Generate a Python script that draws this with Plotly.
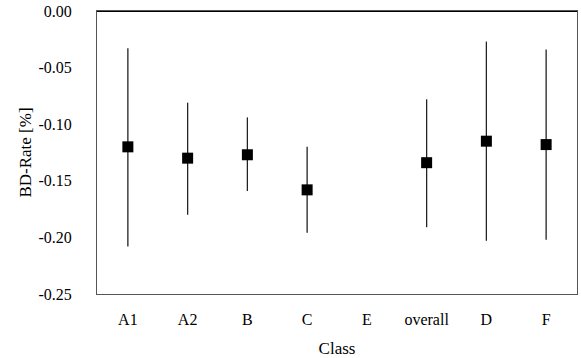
import plotly.graph_objects as go

categories = ["A1", "A2", "B", "C", "E", "overall", "D", "F"]
means = [-0.120, -0.130, -0.127, -0.158, None, -0.134, -0.115, -0.118]
upper = [-0.033, -0.081, -0.094, -0.120, None, -0.078, -0.027, -0.034]
lower = [-0.208, -0.180, -0.159, -0.196, None, -0.191, -0.203, -0.202]
y_tick_values = [0.0, -0.05, -0.10, -0.15, -0.20, -0.25]
y_tick_labels = ["0.00", "-0.05", "-0.10", "-0.15", "-0.20", "-0.25"]

err_plus = [None if m is None else u - m for m, u in zip(means, upper)]
err_minus = [None if m is None else m - l for m, l in zip(means, lower)]

font = "Liberation Serif, Times New Roman, serif"

fig = go.Figure()
fig.add_trace(go.Scatter(
    x=categories, y=means, mode="markers",
    marker=dict(symbol="square", size=11, color="black"),
    error_y=dict(type="data", symmetric=False, array=err_plus, arrayminus=err_minus,
                 color="#222222", thickness=1.3, width=0),
    showlegend=False,
))

fig.update_layout(
    width=581, height=358,
    margin=dict(l=97, r=4, t=11, b=64),
    paper_bgcolor="white", plot_bgcolor="white",
    font=dict(family=font, size=16, color="black"),
    xaxis=dict(
        type="category", categoryorder="array", categoryarray=categories,
        showline=True, linecolor="#555555", linewidth=1, mirror=True,
        showgrid=False, ticks="", tickfont=dict(size=16, color="black"),
        ticklabelstandoff=11, automargin=False,
        title=dict(text="Class", font=dict(size=17, color="black"), standoff=22),
    ),
    yaxis=dict(
        range=[-0.25, 0.0], tickmode="array", tickvals=y_tick_values, ticktext=y_tick_labels,
        showline=True, linecolor="#555555", linewidth=1, mirror=True,
        showgrid=False, zeroline=False, ticks="", tickfont=dict(size=16, color="black"),
        ticklabelstandoff=21, automargin=False,
        title=dict(text="BD-Rate [%]", font=dict(size=17, color="black"), standoff=2),
    ),
    shapes=[dict(type="line", xref="paper", yref="y", x0=0, x1=1, y0=0, y1=0,
                 line=dict(color="black", width=2))],
)

fig.write_html("out.html")
